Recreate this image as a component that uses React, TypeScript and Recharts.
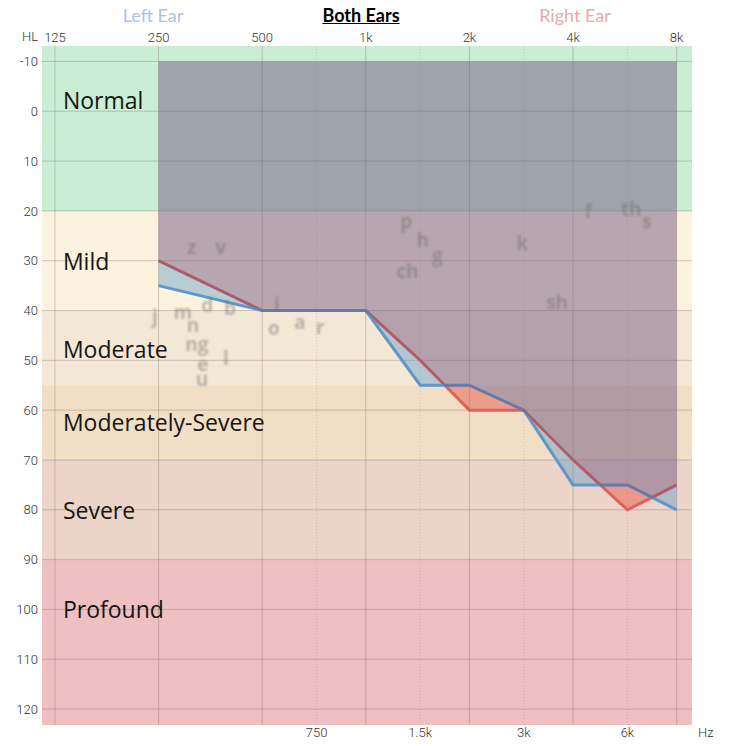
import React from 'react';
import {
  ComposedChart,
  XAxis,
  YAxis,
  Area,
  Line,
  ReferenceArea,
  ReferenceLine,
  Scatter,
} from 'recharts';

// ---- data ----
const frequencies = [250, 500, 750, 1000, 1500, 2000, 3000, 4000, 6000, 8000];
const leftEar = [35, 40, 40, 40, 55, 55, 60, 75, 75, 80];
const rightEar = [30, 40, 40, 40, 50, 60, 60, 70, 80, 75];

const topTicks = [125, 250, 500, 1000, 2000, 4000, 8000];
const bottomTicks = [750, 1500, 3000, 6000];
const dbTicks = [-10, 0, 10, 20, 30, 40, 50, 60, 70, 80, 90, 100, 110, 120];

const bandNames = ['Normal', 'Mild', 'Moderate', 'Moderately-Severe', 'Severe', 'Profound'];
const bandEdges = [-13.1, 20, 40, 55, 70, 90, 123.2];
const bandLabelDb = [-2.2, 30, 47.8, 62.4, 80, 100];

const phonemeText = ['z', 'v', 'j', 'm', 'd', 'b', 'n', 'ng', 'e', 'u', 'l', 'i', 'o', 'a', 'r', 'p', 'h', 'g', 'ch', 'k', 'sh', 'f', 'th', 's'];
const phonemeFreq = [312, 379, 244, 294, 346, 403, 315, 323, 336, 334, 392, 558, 546, 663, 765, 1352, 1523, 1658, 1362, 2961, 3644, 4475, 6131, 6727];
const phonemeDb = [27.3, 27.3, 41, 40.2, 38.8, 39.4, 43, 46.8, 50.8, 53.8, 49.6, 38.6, 43.5, 42.3, 43.3, 22, 25.9, 28.9, 32, 26.5, 38.3, 20, 19.7, 22];

// ---- scale / styles ----
const HALF_OCTAVE_POS = 0.525; // where the in-between ticks sit inside an octave on this audiogram
const OVERLAY_BLEED = 0.3; // overlay reaches slightly past the curve so it covers the line stroke
const bandColors = ['#c9eed4', '#fbf3dd', '#f3e8d6', '#f0dfc4', '#ecd4c9', '#eec0c2'];
const BLUE = '#5f97c9';
const RED = '#e0605a';

const anchors: [number, number][] = [
  ...topTicks.map((f, i) => [Math.log2(f), i] as [number, number]),
  ...bottomTicks.map((f) => {
    const lower = topTicks.findIndex((t) => t * 2 > f);
    return [Math.log2(f), lower + HALF_OCTAVE_POS] as [number, number];
  }),
].sort((a, b) => a[0] - b[0]);

function freqToPos(f: number): number {
  const l = Math.log2(f);
  if (l <= anchors[0][0]) return anchors[0][1] + (l - anchors[0][0]);
  const last = anchors[anchors.length - 1];
  if (l >= last[0]) return last[1] + (l - last[0]);
  for (let i = 0; i < anchors.length - 1; i++) {
    const [l0, p0] = anchors[i];
    const [l1, p1] = anchors[i + 1];
    if (l >= l0 && l <= l1) return p0 + ((l - l0) / (l1 - l0)) * (p1 - p0);
  }
  return 0;
}

const xDomain = [-0.125, 6.148];
const yDomain = [-13.1, 123.2];

const topTickPos = topTicks.map(freqToPos);
const bottomTickPos = bottomTicks.map(freqToPos);
const tickLabel = new Map<string, string>();
[...topTicks, ...bottomTicks].forEach((f) => {
  tickLabel.set(freqToPos(f).toFixed(3), f >= 1000 ? `${f / 1000}k` : String(f));
});
const fmtTick = (u: number) => tickLabel.get(Number(u).toFixed(3)) ?? '';

// build rows (add crossing points so the fills split cleanly)
type Row = { u: number; left: number; right: number };
const rows: Row[] = [];
for (let i = 0; i < frequencies.length; i++) {
  const u0 = freqToPos(frequencies[i]);
  rows.push({ u: u0, left: leftEar[i], right: rightEar[i] });
  if (i < frequencies.length - 1) {
    const d0 = leftEar[i] - rightEar[i];
    const d1 = leftEar[i + 1] - rightEar[i + 1];
    if (d0 * d1 < 0) {
      const t = d0 / (d0 - d1);
      const u1 = freqToPos(frequencies[i + 1]);
      rows.push({
        u: u0 + (u1 - u0) * t,
        left: leftEar[i] + (leftEar[i + 1] - leftEar[i]) * t,
        right: rightEar[i] + (rightEar[i + 1] - rightEar[i]) * t,
      });
    }
  }
}
const chartData = rows.map((r) => {
  const lo = Math.min(r.left, r.right);
  const hi = Math.max(r.left, r.right);
  return {
    ...r,
    blueFill: [r.right, hi],
    redFill: [r.left, hi],
    overlay: [-10, lo + OVERLAY_BLEED],
  };
});

const phonemes = phonemeText.map((t, i) => ({ u: freqToPos(phonemeFreq[i]), db: phonemeDb[i], t }));
const bandLabels = bandNames.map((n, i) => ({ u: 0, db: bandLabelDb[i], t: n }));

const tickFont = { fontFamily: 'Roboto, "DejaVu Sans", sans-serif', fontSize: 13, fill: '#333', fontWeight: 300 };

const PhonemeShape = (props: any) => {
  const { cx, cy, payload } = props;
  return (
    <text
      x={cx}
      y={cy}
      textAnchor="middle"
      dominantBaseline="central"
      fontFamily='"Open Sans", sans-serif'
      fontWeight={700}
      fontSize={19}
      fill="#6a6a6a"
      fillOpacity={0.42}
      style={{ filter: 'blur(0.9px)' }}
    >
      {payload.t}
    </text>
  );
};

const BandLabelShape = (props: any) => {
  const { cx, cy, payload } = props;
  return (
    <text
      x={cx + 8}
      y={cy}
      textAnchor="start"
      dominantBaseline="central"
      fontFamily='"Open Sans", sans-serif'
      fontSize={23}
      fill="#151515"
    >
      {payload.t}
    </text>
  );
};

const titleBase: React.CSSProperties = {
  position: 'absolute',
  top: 4,
  fontFamily: 'Lato, sans-serif',
  fontSize: 18,
  transform: 'translateX(-50%)',
  whiteSpace: 'nowrap',
};

export default function App() {
  return (
    <div style={{ position: 'absolute', left: 0, top: 0, width: 745, height: 746, background: '#fff' }}>
      <div style={{ ...titleBase, left: 153, color: '#a9c4e1' }}>Left Ear</div>
      <div style={{ ...titleBase, left: 361, color: '#000', fontWeight: 700, textDecoration: 'underline' }}>Both Ears</div>
      <div style={{ ...titleBase, left: 575, color: '#eaa9aa' }}>Right Ear</div>
      <div style={{ position: 'absolute', left: 22, top: 29, fontFamily: 'Roboto, sans-serif', fontSize: 13, color: '#333', fontWeight: 300 }}>HL</div>
      <div style={{ position: 'absolute', left: 698, top: 725, fontFamily: 'Roboto, sans-serif', fontSize: 13, color: '#333', fontWeight: 300 }}>Hz</div>
      <ComposedChart width={745} height={746} data={chartData} margin={{ top: 0, right: 53, bottom: 0, left: 0 }}>
        <XAxis
          dataKey="u"
          type="number"
          domain={xDomain}
          allowDataOverflow
          orientation="top"
          ticks={topTickPos}
          tickFormatter={fmtTick}
          height={46}
          tickSize={0}
          tickMargin={4}
          axisLine={false}
          tickLine={false}
          tick={tickFont}
          interval={0}
        />
        <XAxis
          xAxisId="bottom"
          dataKey="u"
          type="number"
          domain={xDomain}
          allowDataOverflow
          orientation="bottom"
          ticks={bottomTickPos}
          tickFormatter={fmtTick}
          height={21}
          tickSize={0}
          tickMargin={3}
          axisLine={false}
          tickLine={false}
          tick={tickFont}
          interval={0}
        />
        <YAxis
          type="number"
          reversed
          domain={yDomain}
          allowDataOverflow
          ticks={dbTicks}
          width={42}
          tickSize={0}
          tickMargin={4}
          axisLine={false}
          tickLine={false}
          tick={tickFont}
          interval={0}
        />
        {bandNames.map((n, i) => (
          <ReferenceArea
            key={n}
            y1={bandEdges[i]}
            y2={bandEdges[i + 1]}
            fill={bandColors[i]}
            fillOpacity={1}
            stroke="none"
            ifOverflow="hidden"
            zIndex={-200}
          />
        ))}
        {dbTicks.map((d) => (
          <ReferenceLine key={`h${d}`} y={d} stroke="#7a5a50" strokeOpacity={0.3} strokeWidth={1} zIndex={-100} />
        ))}
        {topTickPos.map((u) => (
          <ReferenceLine key={`v${u}`} x={u} stroke="#7a5a50" strokeOpacity={0.3} strokeWidth={1} zIndex={-100} />
        ))}
        {bottomTickPos.map((u) => (
          <ReferenceLine key={`d${u}`} x={u} stroke="#7a5a50" strokeOpacity={0.25} strokeWidth={1} strokeDasharray="1 2" zIndex={-100} />
        ))}
        <Line
          xAxisId="bottom"
          dataKey="left"
          stroke="none"
          dot={false}
          activeDot={false}
          legendType="none"
          isAnimationActive={false}
        />
        <Area type="linear" dataKey="blueFill" stroke="none" fill="rgb(100,160,200)" fillOpacity={0.45} isAnimationActive={false} zIndex={100} />
        <Area type="linear" dataKey="redFill" stroke="none" fill="rgb(232,90,80)" fillOpacity={0.5} isAnimationActive={false} zIndex={100} />
        <Area type="linear" dataKey="right" stroke={RED} strokeWidth={3} fill="none" isAnimationActive={false} activeDot={false} zIndex={100} />
        <Area type="linear" dataKey="left" stroke={BLUE} strokeWidth={3} fill="none" isAnimationActive={false} activeDot={false} zIndex={100} />
        <Area type="linear" dataKey="overlay" stroke="none" fill="rgb(115,90,130)" fillOpacity={0.5} isAnimationActive={false} zIndex={100} />
        <Scatter data={phonemes} dataKey="db" shape={PhonemeShape} isAnimationActive={false} zIndex={600} />
        <Scatter data={bandLabels} dataKey="db" shape={BandLabelShape} isAnimationActive={false} zIndex={610} />
      </ComposedChart>
    </div>
  );
}
